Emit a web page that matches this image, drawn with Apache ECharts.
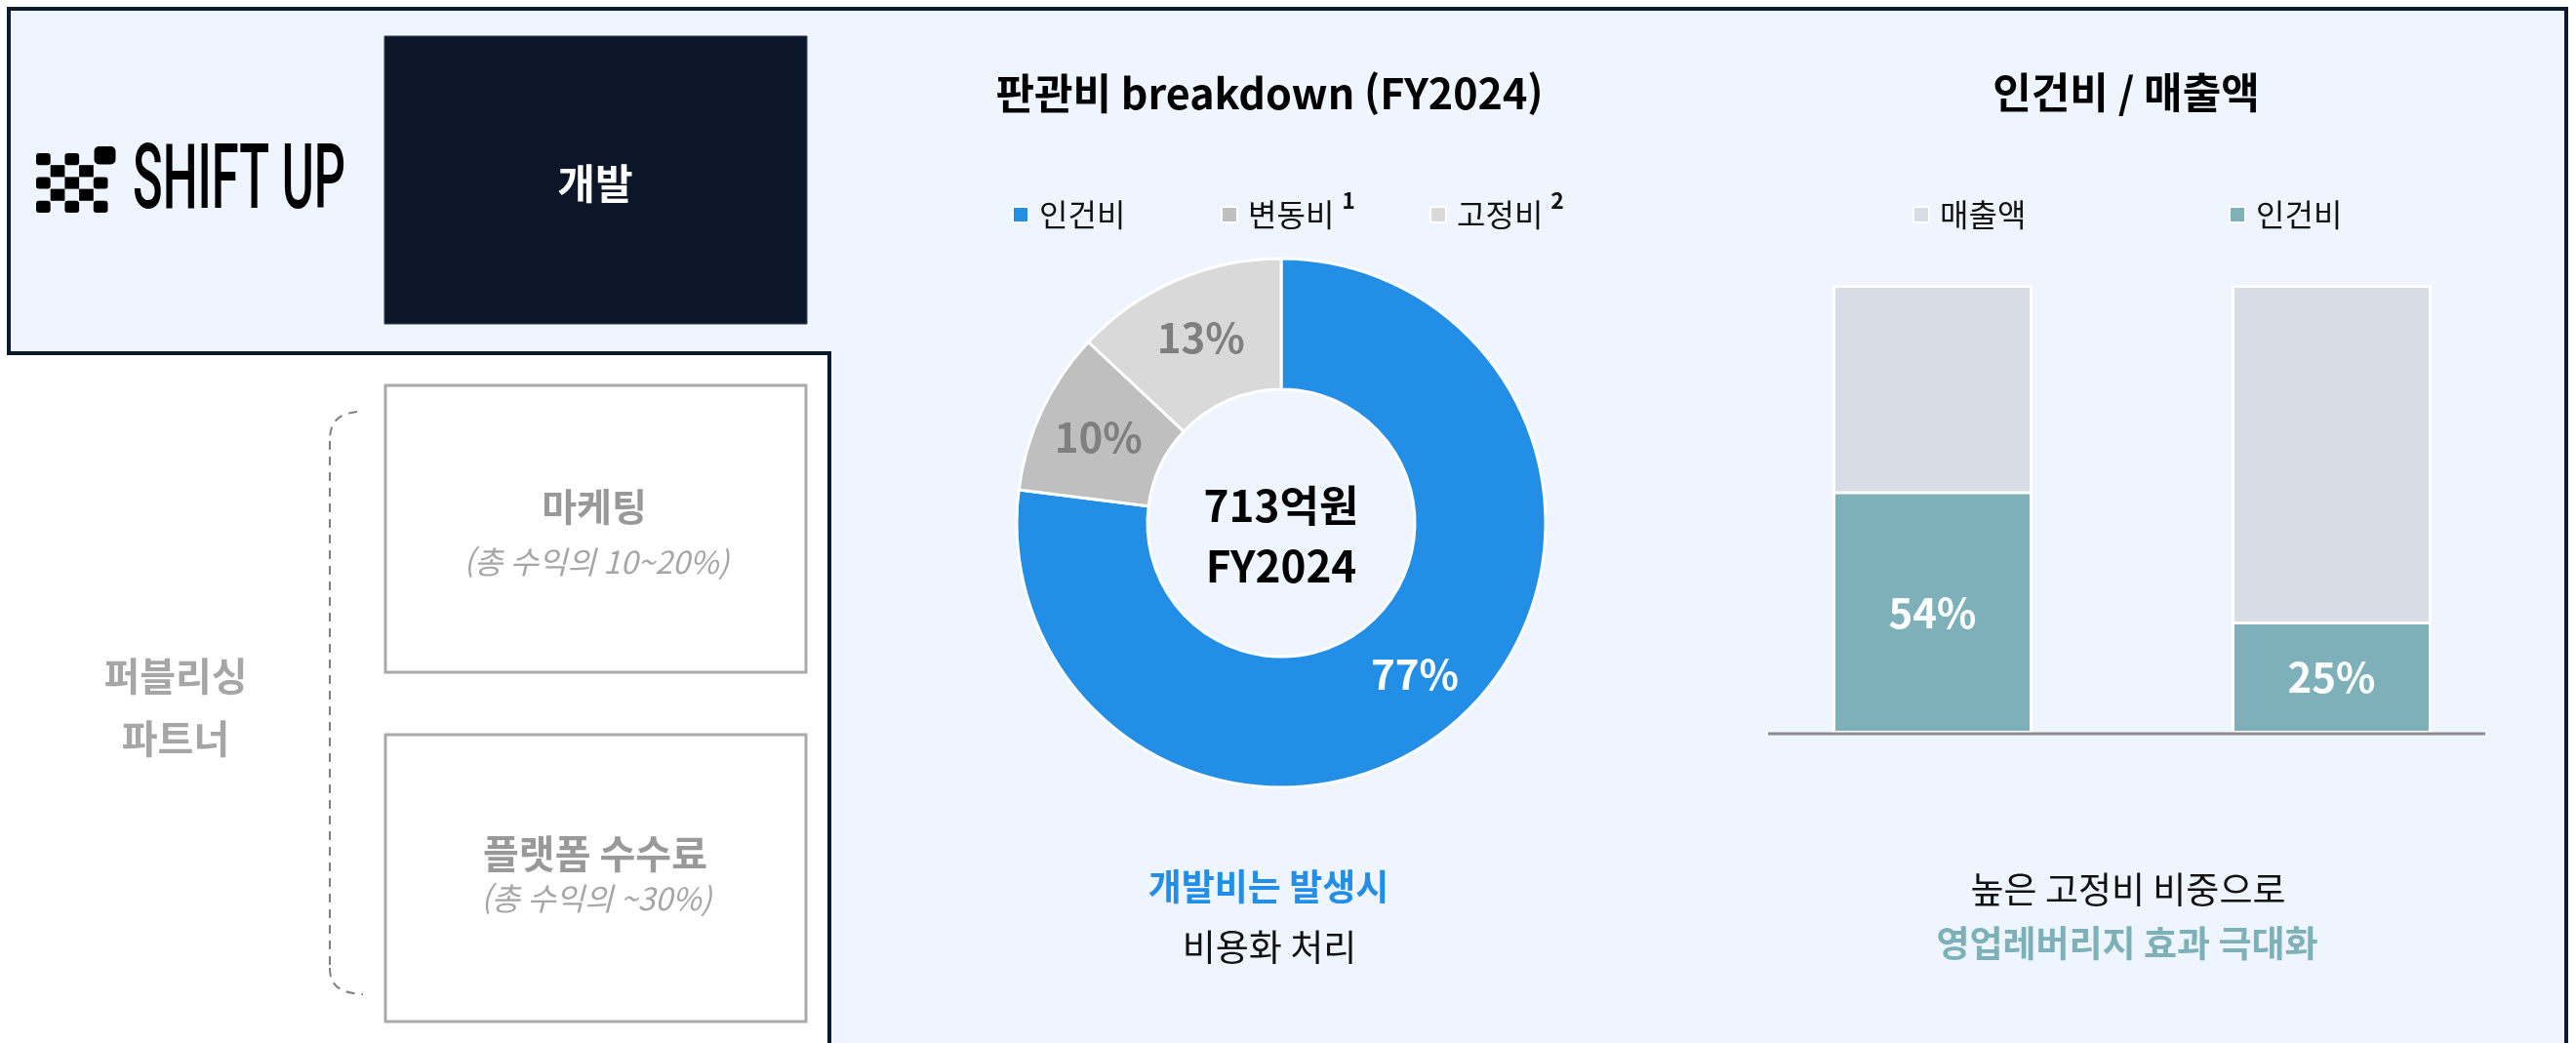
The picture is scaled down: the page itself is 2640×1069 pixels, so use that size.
<!DOCTYPE html>
<html lang="ko">
<head>
<meta charset="utf-8">
<title>SHIFT UP 판관비</title>
<script src="https://cdn.jsdelivr.net/npm/echarts@6/dist/echarts.min.js"></script>
<style>
  html, body { margin: 0; padding: 0; background: #ffffff; }
  #chart { width: 2640px; height: 1069px; }
</style>
</head>
<body>
<div id="chart"></div>
<script>
// 판관비 breakdown (FY2024)
const costNames = ['인건비', '변동비', '고정비']
const costShares = [77, 10, 13]
const costNotes = ['', '1', '2']
const costColors = ['#238ee6', '#bfbfbf', '#d9d9d9']
const costCenter = ['713억원', 'FY2024']

// 인건비 / 매출액 (축 라벨은 원본에 없음)
const ratioCategories = ['A', 'B']
const revenueShare = [100, 100]
const laborShare = [54, 25]
const ratioColors = { revenue: '#d8dde5', labor: '#7db0b8' }

const FONT = '"Noto Sans CJK KR", "Noto Sans", sans-serif'

const chart = echarts.init(document.getElementById('chart'))

function txt(x, y, text, size, extra) {
  return {
    type: 'text', x, y, z: 10,
    style: Object.assign({
      text, fontFamily: FONT, fontSize: size, fill: '#000',
      textAlign: 'center', textVerticalAlign: 'middle'
    }, extra)
  }
}

// logo checker cells: 1 = filled
const logoPattern = [
  [1, 0, 1, 0, 0],
  [0, 1, 0, 1, 0],
  [1, 0, 1, 0, 1],
  [0, 1, 0, 1, 0],
  [1, 0, 1, 0, 1]
]
const logoCells = []
logoPattern.forEach((row, r) => {
  row.forEach((on, c) => {
    if (!on) return
    logoCells.push({
      type: 'rect', z: 10,
      shape: { x: 37 + c * 14.7, y: 157 + r * 12.2, width: 14.7, height: 12.2, r: (r + c) % 2 === 0 && (r === 0 || r === 4 || c === 0 || c === 4) ? 3 : 0 },
      style: { fill: '#000' }
    })
  })
})
logoCells.push({ type: 'rect', z: 10, shape: { x: 96.5, y: 150, width: 22, height: 18.5, r: 5 }, style: { fill: '#000' } })

const legendText = {
  fontFamily: FONT, fontSize: 32, color: '#111', lineHeight: 52, padding: [0, 0, 0, 6],
  rich: { sup: { fontFamily: FONT, fontSize: 23, fontWeight: 'bold', color: '#111', verticalAlign: 'top', lineHeight: 25, padding: [0, 0, 0, 8] } }
}
function legendAt(left, name, color, note) {
  return {
    left, top: 189, icon: 'rect', itemWidth: 16, itemHeight: 16,
    data: [{ name, itemStyle: { color, borderColor: '#fff', borderWidth: 2 } }],
    formatter: n => note ? n + '{sup|' + note + '}' : n,
    textStyle: legendText,
    selectedMode: false
  }
}

const bracketStyle = { fill: null, stroke: '#808080', lineWidth: 2, lineDash: [9, 7] }

const option = {
  animation: false,
  backgroundColor: '#ffffff',
  legend: [
    legendAt(1032, costNames[0], costColors[0], costNotes[0]),
    legendAt(1246, costNames[1], costColors[1], costNotes[1]),
    legendAt(1460, costNames[2], costColors[2], costNotes[2]),
    legendAt(1955, '매출액', ratioColors.revenue, ''),
    legendAt(2279, '인건비', ratioColors.labor, '')
  ],
  grid: { left: 1776, right: 46, top: 292, bottom: 317 },
  xAxis: { type: 'category', data: ratioCategories, show: false },
  yAxis: { type: 'value', min: 0, max: 100, show: false },
  series: [
    {
      type: 'pie',
      center: [1313, 536],
      radius: [137, 271],
      startAngle: 90,
      clockwise: true,
      avoidLabelOverlap: false,
      itemStyle: { borderColor: '#ffffff', borderWidth: 3 },
      label: {
        show: true, position: 'inside', formatter: '{c}%',
        fontFamily: FONT, fontSize: 42, fontWeight: 'bold', color: '#7f7f7f'
      },
      labelLine: { show: false },
      emphasis: { disabled: true },
      data: costNames.map((name, i) => ({
        name, value: costShares[i],
        itemStyle: { color: costColors[i] },
        label: i === 0 ? { color: '#ffffff' } : {}
      }))
    },
    {
      name: '매출액', type: 'bar', barWidth: 205,
      data: revenueShare,
      itemStyle: { color: ratioColors.revenue, borderColor: '#ffffff', borderWidth: 3 },
      emphasis: { disabled: true }
    },
    {
      name: '인건비', type: 'bar', barWidth: 205, barGap: '-100%',
      data: laborShare,
      itemStyle: { color: ratioColors.labor, borderColor: '#ffffff', borderWidth: 3 },
      label: {
        show: true, position: 'inside', formatter: '{c}%',
        fontFamily: FONT, fontSize: 42, fontWeight: 'bold', color: '#ffffff'
      },
      emphasis: { disabled: true }
    }
  ],
  graphic: [
    {
      type: 'polygon', z: -10,
      shape: { points: [[9, 9], [2630, 9], [2630, 1080], [850, 1080], [850, 362], [9, 362]] },
      style: { fill: '#eef5fe', stroke: '#0c1a2e', lineWidth: 4 }
    },
    { type: 'rect', z: 5, shape: { x: 394, y: 37, width: 433, height: 295 }, style: { fill: '#0b1629', stroke: '#334158', lineWidth: 1 } },
    txt(610, 188, '개발', 42, { fill: '#ffffff', fontWeight: 'bold' }),
    ...logoCells,
    {
      type: 'text', x: 136, y: 190, z: 10, scaleX: 0.55,
      style: { text: 'SHIFT UP', fontFamily: 'Roboto', fontSize: 92, fontWeight: 500, fill: '#000', textAlign: 'left', textVerticalAlign: 'middle' }
    },
    { type: 'bezierCurve', z: 5, shape: { x1: 366, y1: 422, cpx1: 347, cpy1: 424, cpx2: 338, cpy2: 432, x2: 338, y2: 452 }, style: bracketStyle },
    { type: 'line', z: 5, shape: { x1: 338, y1: 452, x2: 338, y2: 992 }, style: bracketStyle },
    { type: 'bezierCurve', z: 5, shape: { x1: 338, y1: 992, cpx1: 338, cpy1: 1010, cpx2: 348, cpy2: 1018, x2: 372, y2: 1019 }, style: bracketStyle },
    { type: 'rect', z: 5, shape: { x: 395, y: 395, width: 431, height: 294 }, style: { fill: '#ffffff', stroke: '#a9a9a9', lineWidth: 3 } },
    { type: 'rect', z: 5, shape: { x: 395, y: 753, width: 431, height: 294 }, style: { fill: '#ffffff', stroke: '#a9a9a9', lineWidth: 3 } },
    txt(180, 693, '퍼블리싱', 40, { fill: '#a6a6a6', fontWeight: 'bold' }),
    txt(180, 757, '파트너', 40, { fill: '#a6a6a6', fontWeight: 'bold' }),
    txt(609, 519, '마케팅', 39, { fill: '#999999', fontWeight: 'bold' }),
    txt(611, 576, '(총 수익의 10~20%)', 32, { fill: '#a6a6a6', fontStyle: 'italic' }),
    txt(610, 875, '플랫폼 수수료', 40, { fill: '#999999', fontWeight: 'bold' }),
    txt(611, 921, '(총 수익의 ~30%)', 32, { fill: '#a6a6a6', fontStyle: 'italic' }),
    txt(1301, 96, '판관비 breakdown (FY2024)', 43, { fontWeight: 'bold' }),
    txt(2179, 95, '인건비 / 매출액', 43, { fontWeight: 'bold' }),
    txt(1313, 518, costCenter[0], 44, { fontWeight: 'bold' }),
    txt(1313, 580, costCenter[1], 44, { fontWeight: 'bold' }),
    txt(1300, 909, '개발비는 발생시', 37, { fill: '#238ee6', fontWeight: 'bold' }),
    txt(1301, 971, '비용화 처리', 37, { fill: '#111' }),
    txt(2181, 912, '높은 고정비 비중으로', 37, { fill: '#111' }),
    txt(2180, 967, '영업레버리지 효과 극대화', 37, { fill: '#7db0b8', fontWeight: 'bold' }),
    { type: 'line', z: 20, shape: { x1: 1812, y1: 752, x2: 2547, y2: 752 }, style: { stroke: '#8c8c8c', lineWidth: 3 } }
  ]
}

chart.setOption(option)
window.addEventListener('resize', () => chart.resize())
</script>
</body>
</html>
